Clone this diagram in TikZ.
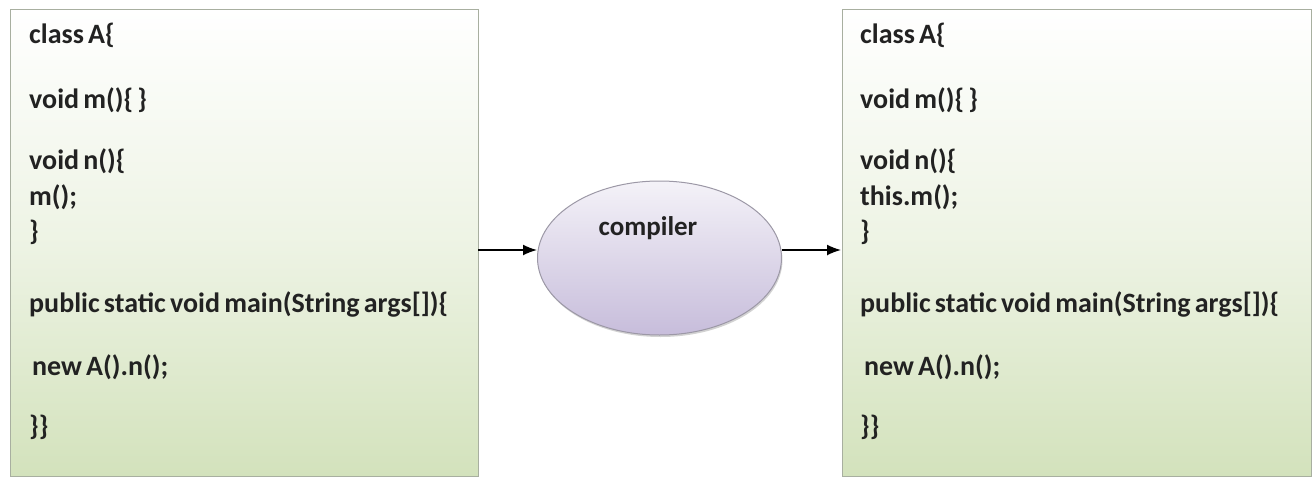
\documentclass[tikz,border=0pt]{standalone}
\usepackage{fontspec}
\setmainfont{Carlito}
\usetikzlibrary{arrows.meta,shadows,shapes.geometric}
\definecolor{boxgreen}{HTML}{D3E2BC}
\definecolor{boxborder}{HTML}{A8AFA0}
\definecolor{ellTop}{HTML}{F4F2F8}
\definecolor{ellBot}{HTML}{C7BDDB}
\definecolor{ellBorder}{HTML}{9C98A6}
\definecolor{codecol}{HTML}{222222}
\newcommand{\codefont}{\fontsize{28}{30}\selectfont\bfseries\spaceskip=0.15em plus 0.02em minus 0.02em\relax}
\newcommand{\compfont}{\fontsize{27}{30}\selectfont\bfseries}
\tikzset{
  codebox/.style={draw=boxborder, line width=0.8pt, top color=white, bottom color=boxgreen, middle color=white!60!boxgreen, shading angle=0},
  codeline/.style={anchor=base west, inner sep=0pt, font=\codefont, text=codecol},
  flow/.style={-{Latex[length=14pt,width=11pt]}, line width=1.6pt, black},
  compilershape/.style={ellipse, draw=ellBorder, line width=1pt, top color=ellTop, bottom color=ellBot, drop shadow={shadow xshift=1pt, shadow yshift=-2pt, opacity=0.35}}
}
\begin{document}
\begin{tikzpicture}[x=1pt,y=-1pt]
\useasboundingbox (0,0) rectangle (1315,479);
\fill[white] (0,0) rectangle (1315,479);
% boxes
\path[codebox] (10,9) rectangle (478,476);
\path[codebox] (842,9) rectangle (1311,476);
\coordinate (L) at (478,250);
\coordinate (R) at (841,250);
% compiler
\node[compilershape, minimum width=244pt, minimum height=154pt, inner sep=0pt] (comp) at (659.5,258) {};
\node[inner sep=0pt, anchor=base, font=\compfont, text=codecol] (ctext) at (648,235) {compiler};
\draw[flow] (L) -- (comp.west |- L);
\draw[flow] (comp.east |- R) -- (R);
% left code
\node[codeline] (l1) at (29,43) {class A\{};
\node[codeline] (l2) at (29,108) {void m()\{ \}};
\node[codeline] (l3) at (29,169) {void n()\{};
\node[codeline] (l4) at (29,205) {m();};
\node[codeline] (l5) at (29,240) {\}};
\node[codeline] (l6) at (29,312) {public static void main(String args[])\{};
\node[codeline] (l7) at (32,375) {new A().n();};
\node[codeline] (l8) at (29,435) {\}\}};
% right code
\node[codeline] (r1) at (860,43) {class A\{};
\node[codeline] (r2) at (860,108) {void m()\{ \}};
\node[codeline] (r3) at (860,169) {void n()\{};
\node[codeline] (r4) at (860,205) {this.m();};
\node[codeline] (r5) at (860,240) {\}};
\node[codeline] (r6) at (860,312) {public static void main(String args[])\{};
\node[codeline] (r7) at (864,375) {new A().n();};
\node[codeline] (r8) at (860,435) {\}\}};
\end{tikzpicture}
\end{document}
